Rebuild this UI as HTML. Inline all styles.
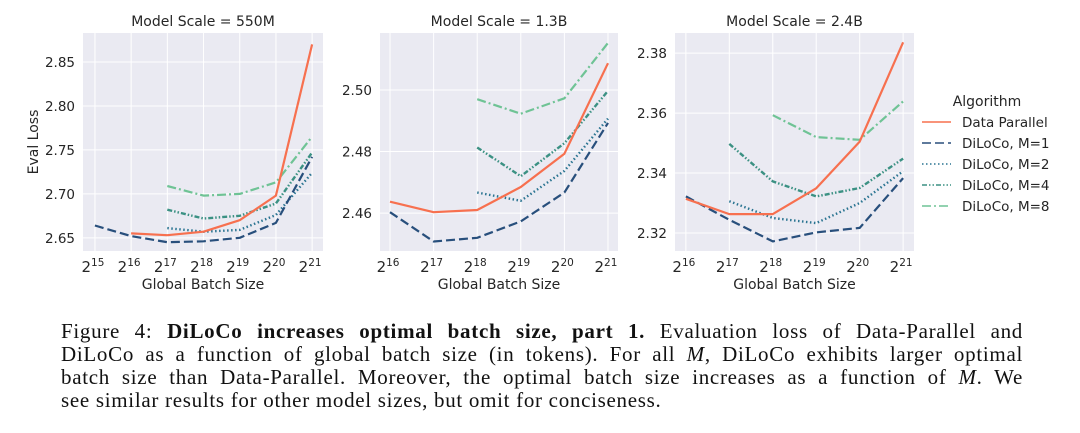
<!DOCTYPE html>
<html><head><meta charset="utf-8">
<style>
body{margin:0;background:#fff;width:1080px;height:433px;overflow:hidden;font-family:"Liberation Sans","DejaVu Sans",sans-serif}
#cap{position:absolute;left:61px;top:320px;width:962px;font-family:"Liberation Serif",serif;font-size:21px;letter-spacing:0.7px;color:#111}
#cap div{height:23px;line-height:23px;text-align:justify;text-align-last:justify;white-space:nowrap}
</style></head><body>
<svg id="chart" width="1080" height="300" style="position:absolute;left:0;top:0" font-family="DejaVu Sans, Liberation Sans, sans-serif"></svg>
<div id="cap">
<div>Figure 4: <b>DiLoCo increases optimal batch size, part 1.</b> Evaluation loss of Data-Parallel and</div>
<div>DiLoCo as a function of global batch size (in tokens). For all <i>M</i>, DiLoCo exhibits larger optimal</div>
<div>batch size than Data-Parallel. Moreover, the optimal batch size increases as a function of <i>M</i>. We</div>
<div style="text-align-last:left">see similar results for other model sizes, but omit for conciseness.</div>
</div>
<script>
const panelTitles=["Model Scale = 550M","Model Scale = 1.3B","Model Scale = 2.4B"];
const seriesNames=["Data Parallel","DiLoCo, M=1","DiLoCo, M=2","DiLoCo, M=4","DiLoCo, M=8"];
const xExp1=[15,16,17,18,19,20,21];
const xExp23=[16,17,18,19,20,21];
const yTicks1=[2.65,2.70,2.75,2.80,2.85];
const yTicks2=[2.46,2.48,2.50];
const yTicks3=[2.32,2.34,2.36,2.38];
// values: [startExponent, values...]
const p1DP=[16,2.655,2.653,2.657,2.670,2.698,2.870];
const p1M1=[15,2.664,2.652,2.645,2.646,2.650,2.667,2.742];
const p1M2=[17,2.661,2.657,2.659,2.676,2.724];
const p1M4=[17,2.682,2.672,2.675,2.689,2.747];
const p1M8=[17,2.709,2.698,2.700,2.713,2.765];
const p2DP=[16,2.4637,2.4603,2.4610,2.4685,2.4793,2.5087];
const p2M1=[16,2.4603,2.4508,2.4520,2.4573,2.4667,2.4893];
const p2M2=[18,2.4667,2.4640,2.4737,2.4907];
const p2M4=[18,2.4813,2.4720,2.4827,2.4997];
const p2M8=[18,2.4970,2.4923,2.4973,2.5153];
const p3DP=[16,2.3314,2.3263,2.3263,2.3349,2.3505,2.3836];
const p3M1=[16,2.3322,2.3244,2.3172,2.3202,2.3217,2.3383];
const p3M2=[17,2.3306,2.3250,2.3233,2.3300,2.3406];
const p3M4=[17,2.3497,2.3372,2.3322,2.3350,2.3448];
const p3M8=[18,2.3593,2.3520,2.3511,2.3639];

const colors=["#f7704f","#284f7c","#2a7491","#3b9183","#6fc395"];
const dashes=["","9,4","1.5,2.5","5,2,1.5,2,1.5,2","9,3,2,3"];
const widths=[2.2,2.2,2.4,2.4,2.2];
const svg=document.getElementById('chart');
const NS="http://www.w3.org/2000/svg";
function mk(tag,attrs,parent){const e=document.createElementNS(NS,tag);for(const k in attrs)e.setAttribute(k,attrs[k]);(parent||svg).appendChild(e);return e;}

const panels=[
 {x0:83,x1:323,y0:33,y1:251,xd:[14.67,21.3],yd:[2.635,2.883],xt:xExp1,yt:yTicks1,fmt:2,s:[p1DP,p1M1,p1M2,p1M4,p1M8]},
 {x0:380,x1:618,y0:33,y1:251,xd:[15.77,21.23],yd:[2.4477,2.5185],xt:xExp23,yt:yTicks2,fmt:2,s:[p2DP,p2M1,p2M2,p2M4,p2M8]},
 {x0:675,x1:914,y0:33,y1:251,xd:[15.75,21.25],yd:[2.314,2.3867],xt:xExp23,yt:yTicks3,fmt:2,s:[p3DP,p3M1,p3M2,p3M4,p3M8]}
];
panels.forEach((p,i)=>{
 const g=mk('g',{});
 
 
 const X=v=>p.x0+(v-p.xd[0])/(p.xd[1]-p.xd[0])*(p.x1-p.x0);
 const Y=v=>p.y1-(v-p.yd[0])/(p.yd[1]-p.yd[0])*(p.y1-p.y0);
 const bg=mk('rect',{x:p.x0,y:p.y0,width:p.x1-p.x0,height:p.y1-p.y0,fill:'#eaeaf2'},g);
 
 
 p.xt.forEach(e=>{
  mk('line',{x1:X(e),x2:X(e),y1:p.y0,y2:p.y1,stroke:'#fff','stroke-width':1},g);
  const t=mk('text',{x:X(e)-2,y:p.y1+21,'font-size':15,fill:'#262626','text-anchor':'middle'},g);
  
  
  t.textContent='2';
  const s=mk('tspan',{'font-size':10.5,dy:-6},t);s.textContent=e;
 });
 p.yt.forEach(v=>{
  mk('line',{x1:p.x0,x2:p.x1,y1:Y(v),y2:Y(v),stroke:'#fff','stroke-width':1},g);
  const t=mk('text',{x:p.x0-8,y:Y(v)+5,'font-size':13.5,fill:'#262626','text-anchor':'end'},g);
  
  
  t.textContent=v.toFixed(p.fmt);
 });
 const tt=mk('text',{x:(p.x0+p.x1)/2,y:p.y0-7,'font-size':14,fill:'#262626','text-anchor':'middle'},g);
 
 
 tt.textContent=panelTitles[i];
 const xl=mk('text',{x:(p.x0+p.x1)/2,y:289,'font-size':14,fill:'#262626','text-anchor':'middle'},g);
 
 
 xl.textContent='Global Batch Size';
 [4,3,2,1,0].forEach(k=>{
  const d=p.s[k];const pts=[];
  for(let j=1;j<d.length;j++)pts.push(X(d[0]+j-1).toFixed(1)+','+Y(d[j]).toFixed(1));
  const l=mk('polyline',{points:pts.join(' '),fill:'none',stroke:colors[k],'stroke-width':widths[k],'stroke-dasharray':dashes[k],'stroke-linejoin':'round'},g);
  
  
 });
});
const yl=mk('text',{x:38,y:142,'font-size':14,fill:'#262626','text-anchor':'middle',transform:'rotate(-90 38 142)'});


yl.textContent='Eval Loss';
const lg=mk('g',{});


const lt=mk('text',{x:987,y:106,'font-size':14,fill:'#262626','text-anchor':'middle'},lg);


lt.textContent='Algorithm';
seriesNames.forEach((n,k)=>{
 const y=122+k*21;
 const ln=mk('line',{x1:922,x2:951,y1:y,y2:y,stroke:colors[k],'stroke-width':1.6,'stroke-dasharray':dashes[k]},lg);
 
 
 const t=mk('text',{x:962,y:y+5,'font-size':13.5,fill:'#262626'},lg);
 
 
 t.textContent=n;
});
</script>
</body></html>
